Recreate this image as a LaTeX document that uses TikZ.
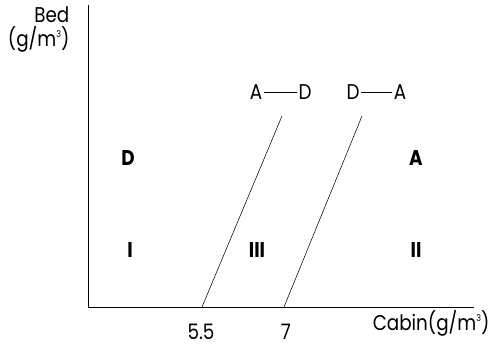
\documentclass[tikz,border=0pt]{standalone}
\usepackage{fontspec}
\setmainfont{Poppins}[FakeStretch=0.86]
\usepackage{tikz}
\usetikzlibrary{arrows.meta,positioning,calc}

\newcommand{\cubic}{\raisebox{0.75ex}{\fontsize{7}{8}\selectfont 3}}

\tikzset{
  lbl/.style={font=\fontsize{16}{18}\selectfont, inner sep=1pt},
  reg/.style={font=\fontsize{16}{18}\selectfont\bfseries, inner sep=1pt},
  bound/.style={thin, black},
}

\begin{document}
\begin{tikzpicture}[x=0.75pt, y=-0.75pt]
    \useasboundingbox (0,0) rectangle (492,347);
    % axes
    \coordinate (o) at (88,307);
    \coordinate (ytop) at (88,5);
    \coordinate (xend) at (474,307);
    \draw[bound] (ytop) -- (o) -- (xend);
    \node[lbl, anchor=east] (bed) at (71,15) {Bed};
    \node[lbl, anchor=east] (bedunit) at (71,39) {(g/m\cubic)};
    \node[lbl, anchor=east] (cabin) at (491,323) {Cabin(g/m\cubic)};
    % boundaries
    \coordinate (b1) at (202,307);
    \coordinate (t1) at (282,116);
    \coordinate (b2) at (284,307);
    \coordinate (t2) at (362,116);
    \draw[bound] (b1) -- (t1);
    \draw[bound] (b2) -- (t2);
    \node[lbl] (v1) at (201,332) {5.5};
    \node[lbl] (v2) at (286,332) {7};
    % transitions
    \node[lbl] (a1) at (256,92) {A};
    \node[lbl] (d1) at (305,92) {D};
    \draw[bound] (a1) -- (d1);
    \node[lbl] (d2) at (353,92) {D};
    \node[lbl] (a2) at (400,92) {A};
    \draw[bound] (d2) -- (a2);
    % regions
    \node[reg] (rd) at (128,158) {D};
    \node[reg] (ra) at (416,158) {A};
    \node[reg] (r1) at (130,250) {I};
    \node[reg] (r3) at (257,250) {III};
    \node[reg] (r2) at (416,250) {II};
\end{tikzpicture}
\end{document}
